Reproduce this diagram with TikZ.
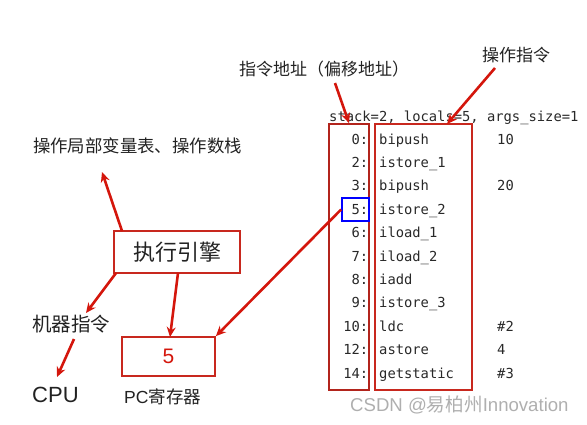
\documentclass[tikz,border=0pt]{standalone}
\usepackage{fontspec}
\setmainfont{Liberation Sans}
\newfontfamily\cjk{Noto Sans CJK SC}
\newfontfamily\mono{DejaVu Sans Mono}
\usetikzlibrary{arrows.meta}
\definecolor{arrred}{RGB}{212,22,12}
\definecolor{boxred}{RGB}{200,40,30}
\definecolor{addrred}{RGB}{178,36,28}
\definecolor{txt}{RGB}{34,34,34}
\definecolor{codetxt}{RGB}{40,40,40}
\definecolor{wm}{RGB}{175,175,175}
\begin{document}
\begin{tikzpicture}[x=1pt,y=-1pt,
  arr/.style={draw=arrred,line width=2.6pt,-{Stealth[length=10pt,width=9pt]}},
  redbox/.style={draw=boxred,line width=1.8pt,inner sep=0pt},
  lbl/.style={inner sep=0pt,text=txt,font=\cjk\fontsize{17}{20}\selectfont},
  code/.style={inner sep=0pt,text=codetxt,font=\mono\fontsize{13.8}{16}\selectfont}]
\useasboundingbox (0,0) rectangle (587,424);

% labels
\node[lbl] (addrlbl) at (324,69) {指令地址（偏移地址）};
\node[lbl] (oplbl) at (516,55) {操作指令};
\node[lbl,anchor=west,font=\cjk\fontsize{17.4}{20}\selectfont] (frame) at (33,146) {操作局部变量表、操作数栈};
\node[lbl,anchor=west,font=\cjk\fontsize{19.5}{22}\selectfont] (mach) at (32,324) {机器指令};
\node[inner sep=0pt,anchor=west,text=txt,font=\fontsize{22}{26}\selectfont] (cpu) at (32,395) {CPU};
\node[inner sep=0pt,anchor=west,text=txt,font=\fontsize{17.5}{20}\selectfont] (pclbl) at (124,397) {PC{\cjk 寄存器}};
\node[inner sep=0pt,anchor=west,text=wm,font=\fontsize{18.6}{20}\selectfont] (wmk) at (350,405) {CSDN @{\cjk 易柏州}Innovation};

% code
\node[code,anchor=base west] (hdr) at (329,121) {stack=2, locals=5, args\_size=1};
\foreach \a/\ins/\op [count=\i from 0] in {0/bipush/10, 2/istore\_1/{}, 3/bipush/20, 5/istore\_2/{}, 6/iload\_1/{}, 7/iload\_2/{}, 8/iadd/{}, 9/istore\_3/{}, 10/ldc/\#2, 12/astore/4, 14/getstatic/\#3}{
  \node[code,anchor=base east] (addr\i) at (368.5,{144+23.4*\i}) {\a:};
  \node[code,anchor=base west] (ins\i) at (379,{144+23.4*\i}) {\ins};
  \node[code,anchor=base west] (op\i) at (497,{144+23.4*\i}) {\op};
}

% boxes
\node[draw=addrred,line width=1.8pt,inner sep=0pt,minimum width=40pt,minimum height=266pt] (addrbox) at (349,257) {};
\node[redbox,minimum width=97pt,minimum height=266pt] (insbox) at (423.5,257) {};
\node[draw=blue,line width=1.8pt,inner sep=0pt,minimum width=27pt,minimum height=23pt] (cur) at (355.5,209.5) {};
\node[redbox,minimum width=126pt,minimum height=42pt,text=txt,font=\cjk\fontsize{22}{26}\selectfont] (eng) at (177,252) {执行引擎};
\node[redbox,minimum width=93pt,minimum height=39pt,text=arrred,font=\fontsize{21}{24}\selectfont] (pc) at (168.5,356.5) {5};

% arrow anchors
\coordinate (a1) at (335,83);
\coordinate (a2) at (495,68);
\coordinate (a2e) at (447,124);
\coordinate (e1) at (122,231);
\coordinate (f1) at (102,172);
\coordinate (e2) at (116,273);
\coordinate (m1) at (86,313);
\coordinate (m2) at (74,339);
\coordinate (c1) at (57,377);
\coordinate (e3) at (178,273);
\coordinate (p1) at (170,337);

% arrows
\draw[arr] (a1) -- (addrbox.north);
\draw[arr] (a2) -- (a2e);
\draw[arr] (cur.west) -- (pc.north east);
\draw[arr] (e1) -- (f1);
\draw[arr] (e2) -- (m1);
\draw[arr] (m2) -- (c1);
\draw[arr] (e3) -- (p1);
\end{tikzpicture}
\end{document}
